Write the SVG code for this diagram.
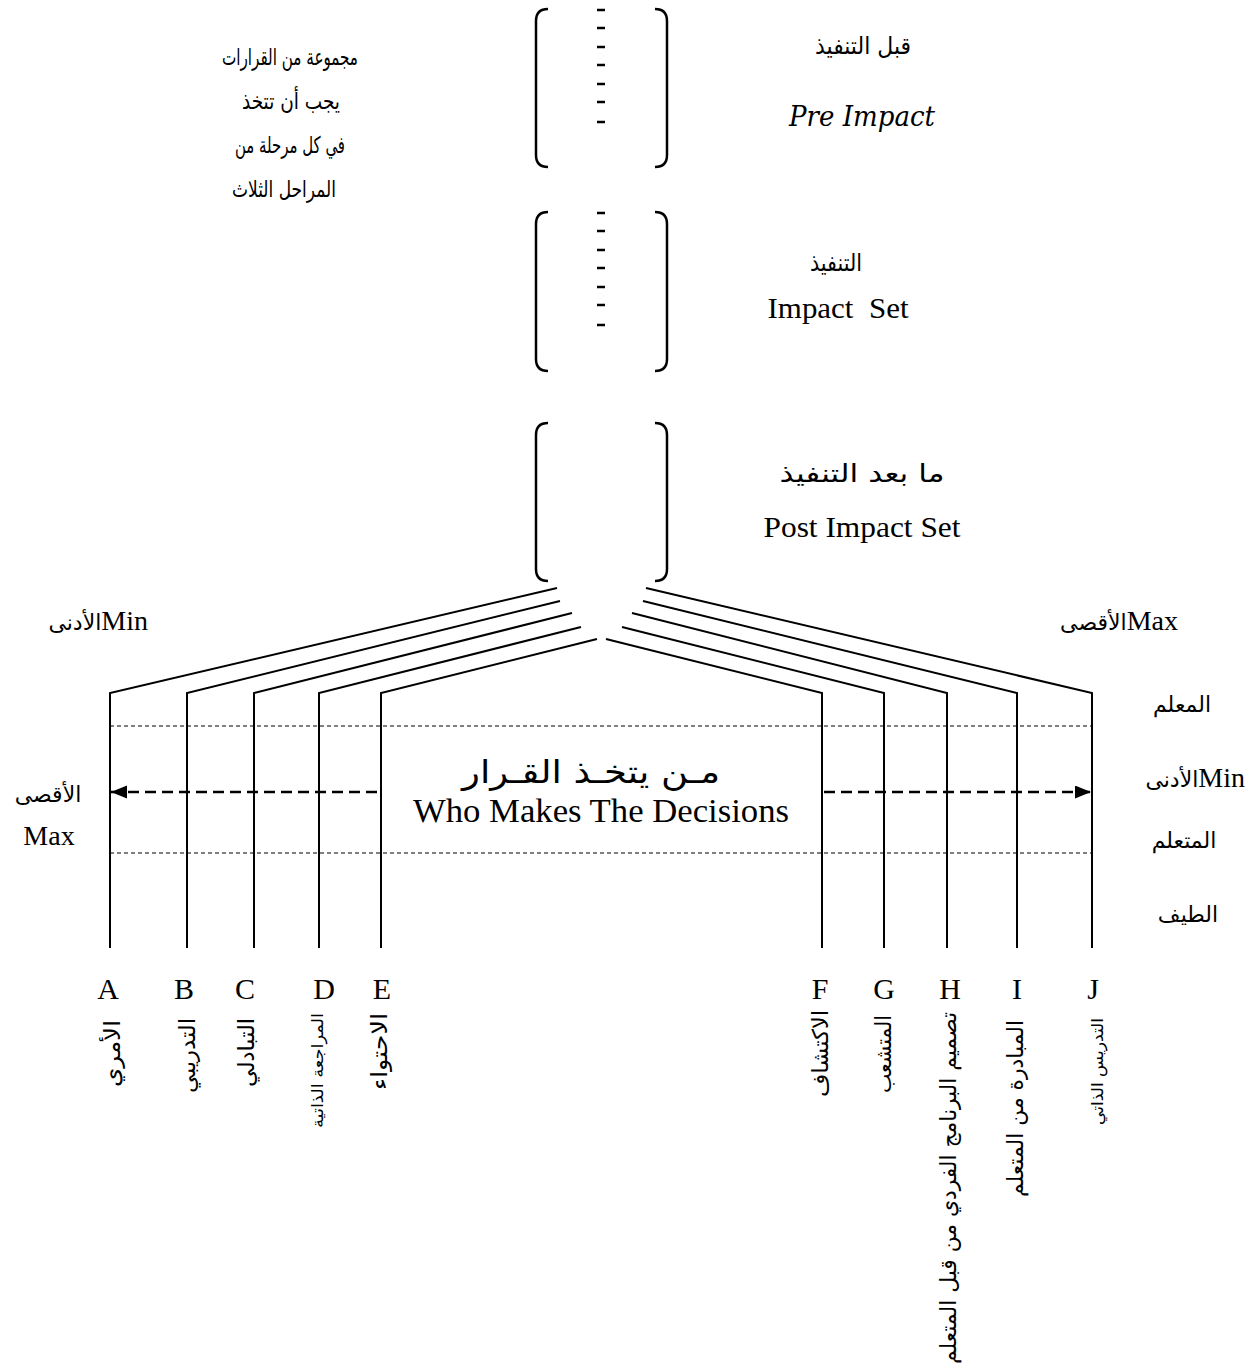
<svg xmlns="http://www.w3.org/2000/svg" width="1251" height="1369" viewBox="0 0 1251 1369">
<style>
.br{stroke:#000;stroke-width:2.5;fill:none}
.dsh{stroke:#000;stroke-width:2.7}
.ln{stroke:#000;stroke-width:2;fill:none}
.dot{stroke:#000;stroke-width:1;stroke-dasharray:4 3;fill:none}
.arr{stroke:#000;stroke-width:2.6;stroke-dasharray:11 6;fill:none}
.en{font-family:"Liberation Serif","Times New Roman",serif;font-size:30px;fill:#000}
.ar{font-family:"DejaVu Sans","Noto Sans",sans-serif;font-size:22px;fill:#000}
.vt{font-family:"DejaVu Sans","Noto Sans",sans-serif;font-size:22px;fill:#000;dominant-baseline:central;text-anchor:end}
</style>
<defs>
<marker id="ah" markerUnits="userSpaceOnUse" markerWidth="18" markerHeight="14" refX="16" refY="6.5" orient="auto">
<path d="M0,0 L16,6.5 L0,13 Z" fill="#000"/>
</marker>
</defs>

<g id="decisions-note">
<text class="ar" x="290" y="65" text-anchor="middle" style="font-size:23px" textLength="136" lengthAdjust="spacingAndGlyphs">مجموعة من القرارات</text>
<text class="ar" x="291" y="109" text-anchor="middle" style="font-size:23px" textLength="98" lengthAdjust="spacingAndGlyphs">يجب أن تتخذ</text>
<text class="ar" x="290" y="153" text-anchor="middle" style="font-size:23px" textLength="110" lengthAdjust="spacingAndGlyphs">في كل مرحلة من</text>
<text class="ar" x="284" y="197" text-anchor="middle" style="font-size:23px" textLength="104" lengthAdjust="spacingAndGlyphs">المراحل الثلاث</text>
</g>

<g id="phase-pre">
<path class="br" d="M548,9 Q536,9 536,21 L536,155 Q536,167 548,167"/>
<path class="br" d="M655,9 Q667,9 667,21 L667,155 Q667,167 655,167"/>
<path class="dsh" d="M597,10H605M597,28H605M597,47H605M597,65H605M597,84H605M597,102H605M597,122H605"/>
<text class="ar" x="863" y="54" text-anchor="middle" style="font-size:24px" textLength="96" lengthAdjust="spacingAndGlyphs">قبل التنفيذ</text>
<text class="en" x="862" y="126" text-anchor="middle" font-style="italic" style="font-family:'DejaVu Serif',serif;font-size:27px" textLength="146" lengthAdjust="spacingAndGlyphs">Pre Impact</text>
</g>

<g id="phase-impact">
<path class="br" d="M548,212 Q536,212 536,224 L536,359 Q536,371 548,371"/>
<path class="br" d="M655,212 Q667,212 667,224 L667,359 Q667,371 655,371"/>
<path class="dsh" d="M597,213H605M597,231H605M597,250H605M597,268H605M597,287H605M597,305H605M597,325H605"/>
<text class="ar" x="836" y="271" text-anchor="middle" style="font-size:24px" textLength="52" lengthAdjust="spacingAndGlyphs">التنفيذ</text>
<text class="en" x="838" y="318" text-anchor="middle" style="white-space:pre" textLength="141" lengthAdjust="spacingAndGlyphs">Impact  Set</text>
</g>

<g id="phase-post">
<path class="br" d="M548,423 Q536,423 536,435 L536,569 Q536,581 548,581"/>
<path class="br" d="M655,423 Q667,423 667,435 L667,569 Q667,581 655,581"/>
<text class="ar" x="862" y="482" text-anchor="middle" style="font-size:25px" textLength="165" lengthAdjust="spacingAndGlyphs">ما بعد التنفيذ</text>
<text class="en" x="862" y="537" text-anchor="middle" textLength="197" lengthAdjust="spacingAndGlyphs">Post Impact Set</text>
</g>

<g id="connectors">
<path class="ln" d="M557,588 L110,693 L110,948"/>
<path class="ln" d="M560,601 L187,693 L187,948"/>
<path class="ln" d="M572,613 L254,693 L254,948"/>
<path class="ln" d="M581,627 L319,693 L319,948"/>
<path class="ln" d="M597,639 L381,693 L381,948"/>
<path class="ln" d="M646,588 L1092,693 L1092,948"/>
<path class="ln" d="M643,601 L1017,693 L1017,948"/>
<path class="ln" d="M632,613 L947,693 L947,948"/>
<path class="ln" d="M622,627 L884,693 L884,948"/>
<path class="ln" d="M606,639 L822,693 L822,948"/>
<line class="dot" x1="110" y1="726" x2="1092" y2="726"/>
<line class="dot" x1="110" y1="853" x2="1092" y2="853"/>
<line class="arr" x1="377" y1="792" x2="111" y2="792" marker-end="url(#ah)"/>
<line class="arr" x1="824" y1="792" x2="1091" y2="792" marker-end="url(#ah)"/>
</g>

<g id="center-title">
<text class="ar" x="591" y="783" text-anchor="middle" style="font-size:32px;font-family:'DejaVu Sans',sans-serif" textLength="258" lengthAdjust="spacingAndGlyphs">مـن يتخـذ القـرار</text>
<text class="en" x="601" y="822" text-anchor="middle" style="font-size:34px" textLength="376" lengthAdjust="spacingAndGlyphs">Who Makes The Decisions</text>
</g>

<g id="side-labels">
<text x="148" y="630" text-anchor="end"><tspan class="ar">الأدنى</tspan><tspan class="en" style="font-size:28px">Min</tspan></text>
<text x="1178" y="630" text-anchor="end"><tspan class="ar">الأقصى</tspan><tspan class="en" style="font-size:28px">Max</tspan></text>
<text class="ar" x="48" y="802" text-anchor="middle">الأقصى</text>
<text class="en" x="49" y="845" text-anchor="middle" style="font-size:28px">Max</text>
<text class="ar" x="1182" y="712" text-anchor="middle">المعلم</text>
<text x="1245" y="787" text-anchor="end"><tspan class="ar">الأدنى</tspan><tspan class="en" style="font-size:28px">Min</tspan></text>
<text class="ar" x="1184" y="848" text-anchor="middle">المتعلم</text>
<text class="ar" x="1188" y="922" text-anchor="middle">الطيف</text>
</g>

<g id="style-A"><text class="en" x="108" y="999" text-anchor="middle">A</text><text class="vt" x="112" y="1020" transform="rotate(-90 112 1020)" textLength="67" lengthAdjust="spacingAndGlyphs">الأمري</text></g>
<g id="style-B"><text class="en" x="184" y="999" text-anchor="middle">B</text><text class="vt" x="187" y="1018" transform="rotate(-90 187 1018)" textLength="75" lengthAdjust="spacingAndGlyphs">التدريبي</text></g>
<g id="style-C"><text class="en" x="245" y="999" text-anchor="middle">C</text><text class="vt" x="246" y="1018" transform="rotate(-90 246 1018)" textLength="69" lengthAdjust="spacingAndGlyphs">التبادلي</text></g>
<g id="style-D"><text class="en" x="324" y="999" text-anchor="middle">D</text><text class="vt" x="317" y="1013" transform="rotate(-90 317 1013)" style="font-size:16px" textLength="115" lengthAdjust="spacingAndGlyphs">المراجعة الذاتية</text></g>
<g id="style-E"><text class="en" x="382" y="999" text-anchor="middle">E</text><text class="vt" x="379" y="1013" transform="rotate(-90 379 1013)" textLength="77" lengthAdjust="spacingAndGlyphs">الاحتواء</text></g>
<g id="style-F"><text class="en" x="820" y="999" text-anchor="middle">F</text><text class="vt" x="820" y="1010" transform="rotate(-90 820 1010)" textLength="87" lengthAdjust="spacingAndGlyphs">الاكتشاف</text></g>
<g id="style-G"><text class="en" x="884" y="999" text-anchor="middle">G</text><text class="vt" x="883" y="1015" transform="rotate(-90 883 1015)" textLength="78" lengthAdjust="spacingAndGlyphs">المتشعب</text></g>
<g id="style-H"><text class="en" x="950" y="999" text-anchor="middle">H</text><text class="vt" x="948" y="1012" transform="rotate(-90 948 1012)" textLength="352" lengthAdjust="spacingAndGlyphs">تصميم البرنامج الفردي من قبل المتعلم</text></g>
<g id="style-I"><text class="en" x="1017" y="999" text-anchor="middle">I</text><text class="vt" x="1015" y="1020" transform="rotate(-90 1015 1020)" textLength="177" lengthAdjust="spacingAndGlyphs">المبادرة من المتعلم</text></g>
<g id="style-J"><text class="en" x="1093" y="999" text-anchor="middle">J</text><text class="vt" x="1097" y="1018" transform="rotate(-90 1097 1018)" style="font-size:16px" textLength="107" lengthAdjust="spacingAndGlyphs">التدريس الذاتي</text></g>
</svg>
